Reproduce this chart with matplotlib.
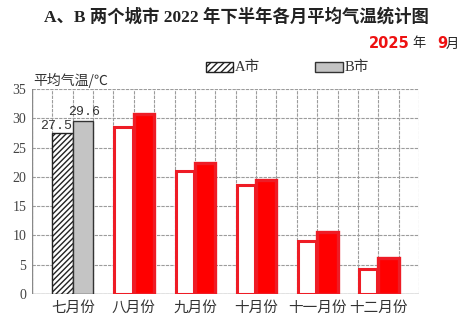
import matplotlib
matplotlib.use("Agg")
import matplotlib.pyplot as plt
from matplotlib.patches import Rectangle

months = ["七月份", "八月份", "九月份", "十月份", "十一月份", "十二月份"]
city_a = [27.5, 28.5, 21.0, 18.6, 9.1, 4.2]
city_b = [29.6, 30.8, 22.3, 19.5, 10.6, 6.1]
y_ticks = [0, 5, 10, 15, 20, 25, 30, 35]

CJK = ["Noto Sans CJK SC", "DejaVu Sans"]
SERIF = ["Liberation Serif", "Noto Sans CJK SC"]

W, H = 466, 322
fig = plt.figure(figsize=(W / 100, H / 100), dpi=100)
ax = fig.add_axes([32 / W, 1 - 294 / H, (419 - 32) / W, (294 - 89) / H])

n_cols = 19
ax.set_xlim(0, n_cols)
ax.set_ylim(0, 35)

# grid
grid_c = "#9c9c9c"
for x in range(n_cols + 1):
    ax.axvline(x, color=grid_c, lw=0.8, ls=(0, (3, 1)), zorder=0)
for y in y_ticks:
    ax.axhline(y, color=grid_c, lw=0.8, ls=(0, (3, 1)), zorder=0)
for s in ax.spines.values():
    s.set_visible(False)
ax.axvline(0, color="#888888", lw=1.0, zorder=1)
ax.axhline(0, color="#888888", lw=1.0, zorder=1)

red_edge = "#ee1c25"
for i, (a, b) in enumerate(zip(city_a, city_b)):
    xa = 1 + 3 * i
    xb = xa + 1
    if i == 0:
        ax.bar(xa, a, width=1, align="edge", facecolor="white", edgecolor="#222222",
               hatch="//////", lw=1.0, zorder=3)
        ax.bar(xb, b, width=1, align="edge", facecolor="#c4c4c4", edgecolor="#333333",
               lw=1.0, zorder=3)
        ax.text(xa + 0.2, a + 0.1, f"{a}", ha="center", va="bottom",
                family="Liberation Mono", fontsize=9.5, color="#333333", zorder=5)
        ax.text(xb + 0.55, b + 0.5, f"{b}", ha="center", va="bottom",
                family="Liberation Mono", fontsize=9.5, color="#333333", zorder=5)
    else:
        ax.bar(xa + 0.05, a, width=0.9, align="edge", facecolor="white", edgecolor=red_edge,
               lw=2.2, zorder=3)
        ax.bar(xb, b, width=1, align="edge", facecolor="#ff0000", edgecolor=red_edge,
               lw=2.4, zorder=4)

ax.set_yticks(y_ticks)
ax.set_yticklabels([str(t) for t in y_ticks], family=SERIF, fontsize=10, color="#444444")
ax.set_xticks([2 + 3 * i for i in range(len(months))])
ax.set_xticklabels(months, family=CJK, fontsize=10.5, color="#333333")
ax.tick_params(length=0, pad=4)
ax.tick_params(axis="x", pad=5)

# title
fig.text(236 / W, 1 - 17 / H, "A、B 两个城市 2022 年下半年各月平均气温统计图",
         ha="center", va="center", family=["Liberation Serif", "Noto Sans CJK SC"],
         fontweight="bold", fontsize=12.5, color="#222222")

# date
fig.text(369 / W, 1 - 44 / H, "2025", ha="left", va="center", family="DejaVu Sans",
         fontweight="bold", fontsize=10.5, color="#ee1111")
fig.text(412 / W, 1 - 44 / H, "年", ha="left", va="center", family=CJK,
         fontsize=9.5, color="#222222")
fig.text(437 / W, 1 - 44 / H, "9", ha="left", va="center", family="DejaVu Sans",
         fontweight="bold", fontsize=10.5, color="#ee1111")
fig.text(446 / W, 1 - 44 / H, "月", ha="left", va="center", family=CJK,
         fontsize=9.5, color="#222222")

# legend
fig.patches.append(Rectangle((206 / W, 1 - 72 / H), 27 / W, 10 / H, transform=fig.transFigure,
                             facecolor="white", edgecolor="#222222", hatch="/////", lw=1.0))
fig.text(235 / W, 1 - 67 / H, "A市", ha="left", va="center", family=SERIF,
         fontsize=10.5, color="#333333")
fig.patches.append(Rectangle((315 / W, 1 - 72 / H), 28 / W, 10 / H, transform=fig.transFigure,
                             facecolor="#c4c4c4", edgecolor="#333333", lw=1.0))
fig.text(345 / W, 1 - 67 / H, "B市", ha="left", va="center", family=SERIF,
         fontsize=10.5, color="#333333")

# y label
fig.text(33 / W, 1 - 80 / H, "平均气温/℃", ha="left", va="center", family=CJK,
         fontsize=10, color="#333333")

fig.savefig("out.png", dpi=100, facecolor="white")
